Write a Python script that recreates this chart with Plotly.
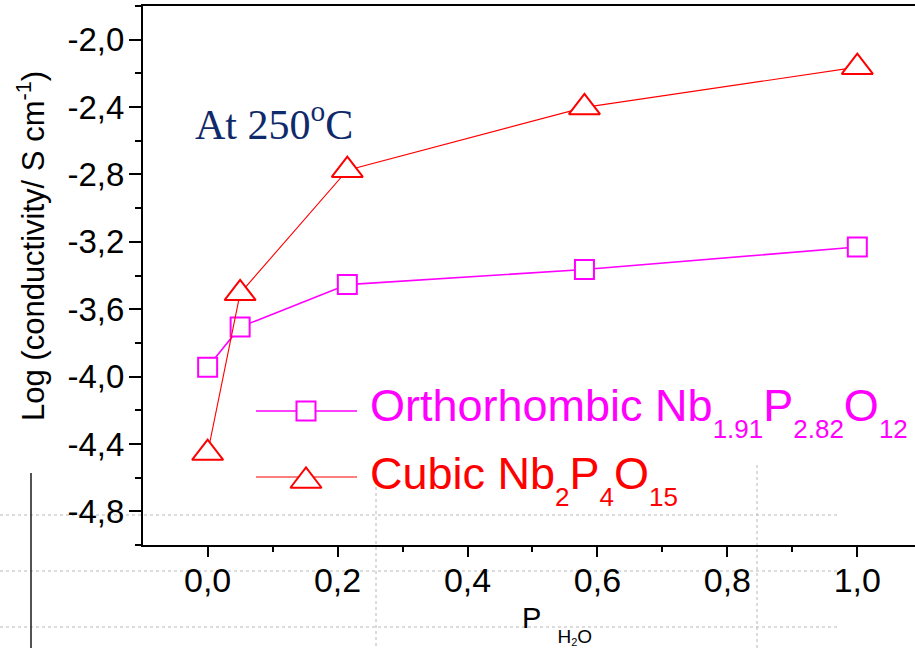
import plotly.graph_objects as go

# --- data -----------------------------------------------------------------
p_h2o = [0.0, 0.05, 0.215, 0.58, 1.0]
log_sigma_ortho = [-3.944, -3.706, -3.454, -3.364, -3.231]   # Orthorhombic Nb1.91P2.82O12
log_sigma_cubic = [-4.454, -3.506, -2.775, -2.402, -2.163]   # Cubic Nb2P4O15

x_tick_vals = [0.0, 0.2, 0.4, 0.6, 0.8, 1.0]
x_tick_text = ["0,0", "0,2", "0,4", "0,6", "0,8", "1,0"]
y_tick_vals = [-4.8, -4.4, -4.0, -3.6, -3.2, -2.8, -2.4, -2.0]
y_tick_text = ["-4,8", "-4,4", "-4,0", "-3,6", "-3,2", "-2,8", "-2,4", "-2,0"]

# --- page geometry (pixels) ----------------------------------------------
W, H = 915, 648
L, R, T, B = 143, 915, 6, 545

MAGENTA = "#ff00ff"
RED = "#ff0000"
NAVY = "#0f2a6b"
SANS = "Liberation Sans, Arial, sans-serif"
SERIF = "Liberation Serif, Times New Roman, serif"


def fx(px):
    return (px - L) / (R - L)


def fy(py):
    return (B - py) / (B - T)


fig = go.Figure()

fig.add_trace(go.Scatter(
    x=p_h2o, y=log_sigma_ortho, mode="lines+markers",
    line=dict(color=MAGENTA, width=1.6),
    marker=dict(symbol="square", size=19, color="white",
                line=dict(color=MAGENTA, width=2)),
    showlegend=False, cliponaxis=False,
))
fig.add_trace(go.Scatter(
    x=p_h2o, y=log_sigma_cubic, mode="lines+markers",
    line=dict(color=RED, width=1.1),
    marker=dict(symbol="triangle-up", size=27, color="white",
                line=dict(color=RED, width=2)),
    showlegend=False, cliponaxis=False,
))

# --- hand-drawn key on a pixel-space overlay axis -------------------------
key_rows = [(411, MAGENTA, "square", 19, 1.6), (477, RED, "triangle-up", 27, 1.1)]
for ky, col, sym, sz, lw in key_rows:
    fig.add_trace(go.Scatter(
        x=[256, 357], y=[ky, ky], mode="lines", xaxis="x2", yaxis="y2",
        line=dict(color=col, width=lw), showlegend=False, hoverinfo="skip",
    ))
    fig.add_trace(go.Scatter(
        x=[306], y=[ky + (4 if sym == "triangle-up" else 0)], mode="markers",
        xaxis="x2", yaxis="y2",
        marker=dict(symbol=sym, size=sz, color="white", line=dict(color=col, width=2)),
        showlegend=False, hoverinfo="skip", cliponaxis=False,
    ))

axis_common = dict(
    showline=True, linecolor="black", linewidth=2,
    showgrid=False, zeroline=False,
    ticks="outside", tickcolor="black", tickwidth=2,
)

fig.update_layout(
    width=W, height=H,
    margin=dict(l=L, r=W - R, t=T, b=H - B, pad=0),
    paper_bgcolor="white", plot_bgcolor="white",
    xaxis=dict(
        range=[-0.0995, 1.0888], tickmode="array",
        tickvals=x_tick_vals, ticktext=x_tick_text,
        ticklen=10, ticklabelstandoff=-6, mirror=True,
        tickfont=dict(family=SANS, size=34, color="black"),
        minor=dict(dtick=0.1, tick0=0.0, ticklen=5, tickwidth=2,
                   tickcolor="black", ticks="outside"),
        **axis_common,
    ),
    yaxis=dict(
        range=[-5.0, -1.8], tickmode="array",
        tickvals=y_tick_vals, ticktext=y_tick_text,
        ticklen=12, ticklabelstandoff=-2, mirror=False,
        tickfont=dict(family=SANS, size=33, color="black"),
        minor=dict(dtick=0.2, tick0=-2.0, ticklen=6, tickwidth=2,
                   tickcolor="black", ticks="outside"),
        **axis_common,
    ),
    xaxis2=dict(overlaying="x", range=[L, R], visible=False),
    yaxis2=dict(overlaying="y", range=[B, T], visible=False),
)

# --- text -----------------------------------------------------------------
def sub(txt, size=26, shift=17):
    return f"<span style='font-size:{size}px;baseline-shift:-{shift}px'>{txt}</span>"


annotations = [
    dict(text="At 250<sup>o</sup>C", x=fx(193), y=fy(121), xanchor="left", yanchor="middle",
         font=dict(family=SERIF, size=42, color=NAVY)),
    dict(text="Orthorhombic Nb" + sub("1.91") + "P" + sub("2.82") + "O" + sub("12"),
         x=fx(368), y=fy(412), xanchor="left", yanchor="middle",
         font=dict(family=SANS, size=45, color=MAGENTA)),
    dict(text="Cubic Nb" + sub("2") + "P" + sub("4") + "O" + sub("15"),
         x=fx(368), y=fy(480), xanchor="left", yanchor="middle",
         font=dict(family=SANS, size=45, color=RED)),
    dict(text="Log (conductivity/ S cm<sup>-1</sup>)", textangle=-90,
         x=fx(31), y=fy(246), xanchor="center", yanchor="middle",
         font=dict(family=SANS, size=31, color="black")),
    dict(text="P\u00a0\u00a0" + sub("H" + "<span style='font-size:11px;baseline-shift:-3px'>2</span>" + "O", 19, 15),
         x=fx(520), y=fy(625), xanchor="left", yanchor="middle",
         font=dict(family=SANS, size=29, color="black")),
]
for a in annotations:
    a.update(xref="paper", yref="paper", showarrow=False)
fig.update_layout(annotations=annotations)

# --- faint background guide lines and the stray stroke at the far left ----
shapes = []
for gy in (515, 571, 627):
    shapes.append(dict(type="line", xref="paper", yref="paper",
                       x0=fx(0), x1=fx(837), y0=fy(gy), y1=fy(gy),
                       line=dict(color="#b8b8b8", width=1, dash="dot"), layer="below"))
for gx, top in ((376, 463), (757, 465)):
    shapes.append(dict(type="line", xref="paper", yref="paper",
                       x0=fx(gx), x1=fx(gx), y0=fy(top), y1=fy(H),
                       line=dict(color="#b8b8b8", width=1, dash="dot"), layer="below"))
shapes.append(dict(type="line", xref="paper", yref="paper",
                   x0=fx(31), x1=fx(31), y0=fy(473), y1=fy(H),
                   line=dict(color="#1a1a1a", width=1.5), layer="above"))
fig.update_layout(shapes=shapes)

fig.write_html("out.html")
